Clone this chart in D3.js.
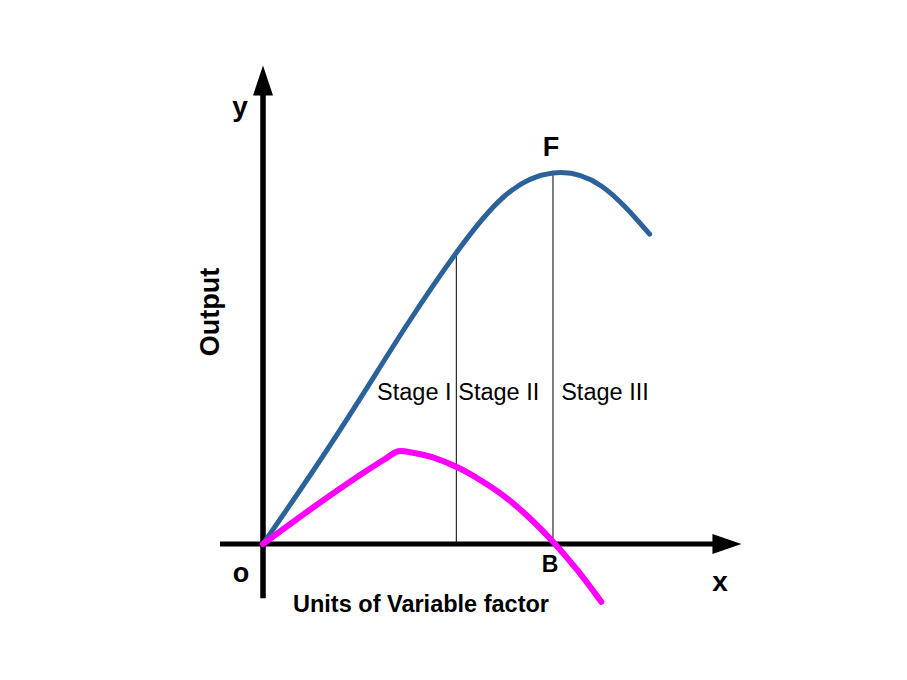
<!DOCTYPE html>
<html>
<head>
<meta charset="utf-8">
<script src="https://cdn.jsdelivr.net/npm/d3@7"></script>
<style>
  body { margin: 0; background: #fff; }
  svg { display: block; font-family: "Liberation Sans", Arial, sans-serif; }
</style>
</head>
<body>
<svg id="chart" width="907" height="680"></svg>
<script>
// Total product curve (blue)
const tpX = [0, 1, 2, 3, 4, 5, 6, 7, 8];
const tpY = [0, 1.9, 3.9, 5.95, 7.85, 9.38, 10, 9.65, 8.35];

// Marginal product curve (magenta)
const mpX = [0, 1, 2, 2.5, 2.8, 3.1, 3.5, 4, 4.5, 5, 5.5, 6, 6.5, 7];
const mpY = [0, 0.95, 1.85, 2.27, 2.5, 2.46, 2.34, 2.08, 1.72, 1.28, 0.72, 0.06, -0.7, -1.56];

// Stage boundaries
const stageX = [4, 6];
const stageLabels = ["Stage I", "Stage II", "Stage III"];
const stageLabelX = [2.36, 4.04, 6.17];

// Axis extents (in data units)
const xAxisExtent = [-0.89, 9.9];
const yAxisExtent = [-1.46, 12.9];

const svg = d3.select("#chart");
const x = d3.scaleLinear().domain([0, 10]).range([263, 746.3]);
const y = d3.scaleLinear().domain([0, 10]).range([544, 173]);

// Axes with arrow heads
svg.append("line")
    .attr("x1", x(xAxisExtent[0])).attr("x2", x(xAxisExtent[1]) - 20)
    .attr("y1", y(0)).attr("y2", y(0))
    .attr("stroke", "#000").attr("stroke-width", 5);
svg.append("path")
    .attr("d", `M${x(xAxisExtent[1])},${y(0)} L${x(xAxisExtent[1]) - 29},${y(0) - 10} L${x(xAxisExtent[1]) - 29},${y(0) + 10} Z`)
    .attr("fill", "#000");

svg.append("line")
    .attr("x1", x(0)).attr("x2", x(0))
    .attr("y1", y(yAxisExtent[0])).attr("y2", y(yAxisExtent[1]) + 20)
    .attr("stroke", "#000").attr("stroke-width", 5.5);
svg.append("path")
    .attr("d", `M${x(0)},${y(yAxisExtent[1])} L${x(0) - 10},${y(yAxisExtent[1]) + 30} L${x(0) + 10},${y(yAxisExtent[1]) + 30} Z`)
    .attr("fill", "#000");

// Stage divider lines
const tpAt = d3.scaleLinear().domain(tpX).range(tpY);
svg.selectAll(".stage-line")
    .data(stageX)
    .enter().append("line")
    .attr("class", "stage-line")
    .attr("x1", d => x(d)).attr("x2", d => x(d))
    .attr("y1", y(0)).attr("y2", d => y(tpAt(d)))
    .attr("stroke", "#000").attr("stroke-width", 1);

// Curves
const tpLine = d3.line()
    .x(d => x(d[0]))
    .y(d => y(d[1]))
    .curve(d3.curveNatural);

const mpLine = d3.line()
    .x(d => x(d[0]))
    .y(d => y(d[1]))
    .curve(d3.curveCatmullRom.alpha(0.5));

svg.append("path")
    .datum(d3.zip(tpX, tpY))
    .attr("d", tpLine)
    .attr("fill", "none")
    .attr("stroke", "#2c629b")
    .attr("stroke-width", 5)
    .attr("stroke-linecap", "round");

svg.append("path")
    .datum(d3.zip(mpX, mpY))
    .attr("d", mpLine)
    .attr("fill", "none")
    .attr("stroke", "#ff00ff")
    .attr("stroke-width", 6)
    .attr("stroke-linecap", "round");

// Stage labels
svg.selectAll(".stage-label")
    .data(stageLabels)
    .enter().append("text")
    .attr("class", "stage-label")
    .attr("x", (d, i) => x(stageLabelX[i]))
    .attr("y", 400)
    .style("font-size", "23.5px")
    .attr("fill", "#000")
    .text(d => d);

// Letter labels
const letters = [
    { t: "y", px: 240, py: 116, size: 28 },
    { t: "F", px: 551, py: 156, size: 27 },
    { t: "o", px: 241, py: 582, size: 27 },
    { t: "B", px: 550, py: 572, size: 23 },
    { t: "x", px: 720, py: 591, size: 28 }
];
svg.selectAll(".letter")
    .data(letters)
    .enter().append("text")
    .attr("class", "letter")
    .attr("x", d => d.px)
    .attr("y", d => d.py)
    .attr("text-anchor", "middle")
    .style("font-size", d => d.size + "px")
    .style("font-weight", "bold")
    .text(d => d.t);

// Axis titles
svg.append("text")
    .attr("transform", "translate(219, 312) rotate(-90)")
    .attr("text-anchor", "middle")
    .style("font-size", "27px")
    .style("font-weight", "bold")
    .text("Output");

svg.append("text")
    .attr("x", 421)
    .attr("y", 612)
    .attr("text-anchor", "middle")
    .style("font-size", "23.5px")
    .style("font-weight", "bold")
    .text("Units of Variable factor");
</script>
</body>
</html>
